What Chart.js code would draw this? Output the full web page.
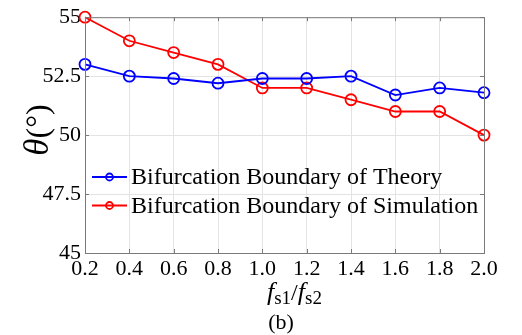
<!DOCTYPE html>
<html>
<head>
<meta charset="utf-8">
<script src="https://cdn.jsdelivr.net/npm/chart.js@4/dist/chart.umd.min.js"></script>
<style>
  html, body { margin: 0; padding: 0; background: #fff; }
  #wrap { width: 522px; height: 335px; }
</style>
</head>
<body>
<div id="wrap"><canvas id="chartBifurcacao" width="522" height="335"></canvas></div>
<script>
// dados
const ratios = [0.2, 0.4, 0.6, 0.8, 1.0, 1.2, 1.4, 1.6, 1.8, 2.0];
const theory = [53, 52.5, 52.4, 52.2, 52.4, 52.4, 52.5, 51.7, 52, 51.8];
const simulation = [55, 54, 53.5, 53, 52, 52, 51.5, 51, 51, 50];
const yTicks = [45, 47.5, 50, 52.5, 55];
const seriesNames = ["Bifurcation Boundary of Theory", "Bifurcation Boundary of Simulation"];

const serif = "'Liberation Serif', 'Times New Roman', serif";
const axisGray = "#7a7a7a";

// caixa, ticks para dentro, legenda e títulos
const extras = {
    id: "extras",
    afterDraw(chart) {
        const ctx = chart.ctx;
        const a = chart.chartArea;
        const x = chart.scales.x, y = chart.scales.y;
        ctx.save();
        ctx.strokeStyle = axisGray;
        ctx.lineWidth = 1;
        ctx.strokeRect(a.left + 0.5, a.top + 0.5, a.right - a.left, a.bottom - a.top);
        ctx.beginPath();
        ratios.forEach(v => {
            const px = Math.round(x.getPixelForValue(v)) + 0.5;
            ctx.moveTo(px, a.bottom); ctx.lineTo(px, a.bottom - 4);
            ctx.moveTo(px, a.top); ctx.lineTo(px, a.top + 4);
        });
        yTicks.forEach(v => {
            const py = Math.round(y.getPixelForValue(v)) + 0.5;
            ctx.moveTo(a.left, py); ctx.lineTo(a.left + 4, py);
            ctx.moveTo(a.right, py); ctx.lineTo(a.right - 4, py);
        });
        ctx.stroke();

        // legenda
        ctx.font = "24px " + serif;
        ctx.textBaseline = "middle";
        chart.data.datasets.forEach((ds, i) => {
            const ly = 177 + i * 28.5;
            ctx.strokeStyle = ds.borderColor;
            ctx.lineWidth = 1.8;
            ctx.beginPath();
            ctx.moveTo(92, ly); ctx.lineTo(127, ly);
            ctx.stroke();
            ctx.beginPath();
            ctx.arc(109.5, ly, 3.5, 0, Math.PI * 2);
            ctx.stroke();
            ctx.fillStyle = "#000";
            ctx.textAlign = "left";
            ctx.fillText(ds.label, 131, ly + 1);
        });

        // título eixo x: fs1/fs2
        ctx.fillStyle = "#000";
        ctx.textBaseline = "alphabetic";
        const parts = [
            ["f", "italic 26px " + serif, 0],
            ["s1", "19px " + serif, 4],
            ["/", "24px " + serif, 0],
            ["f", "italic 26px " + serif, 0],
            ["s2", "19px " + serif, 4]
        ];
        let cx = 267;
        parts.forEach(p => {
            ctx.font = p[1];
            ctx.textAlign = "left";
            ctx.fillText(p[0], cx, 300 + p[2]);
            cx += ctx.measureText(p[0]).width;
        });

        ctx.font = "22px " + serif;
        ctx.textAlign = "center";
        ctx.fillText("(b)", 281, 329);

        // título eixo y: θ(°)
        ctx.translate(37, 130);
        ctx.rotate(-Math.PI / 2);
        ctx.textAlign = "left";
        const th = "italic 35px " + serif, rest = "32px " + serif;
        ctx.font = th; const w1 = ctx.measureText("θ").width;
        ctx.font = rest; const w2 = ctx.measureText("(°)").width;
        const sx = -(w1 + w2) / 2;
        ctx.font = th; ctx.fillText("θ", sx, 11);
        ctx.font = rest; ctx.fillText("(°)", sx + w1, 11);
        ctx.restore();
    }
};

const cv = document.getElementById("chartBifurcacao");

new Chart(cv, {
    type: "line",
    data: {
        datasets: [
            {
                label: seriesNames[0],
                data: ratios.map((r, i) => ({ x: r, y: theory[i] })),
                borderColor: "#0000ff",
                borderWidth: 1.8,
                pointRadius: 5.5,
                pointBorderWidth: 1.8,
                pointBackgroundColor: "rgba(0,0,0,0)",
                pointBorderColor: "#0000ff",
                tension: 0
            },
            {
                label: seriesNames[1],
                data: ratios.map((r, i) => ({ x: r, y: simulation[i] })),
                borderColor: "#ff0000",
                borderWidth: 1.8,
                pointRadius: 5.5,
                pointBorderWidth: 1.8,
                pointBackgroundColor: "rgba(0,0,0,0)",
                pointBorderColor: "#ff0000",
                tension: 0
            }
        ]
    },
    options: {
        responsive: false,
        animation: false,
        clip: false,
        layout: { padding: { top: 13, right: 38, left: 0, bottom: 0 } },
        plugins: { legend: { display: false }, tooltip: { enabled: false } },
        scales: {
            x: {
                type: "linear",
                min: 0.2,
                max: 2.0,
                afterBuildTicks: s => { s.ticks = ratios.map(v => ({ value: v })); },
                afterFit: s => { s.height = 82; },
                grid: { color: "#e3e3e3", drawTicks: false },
                border: { display: false },
                ticks: {
                    padding: 3,
                    color: "#000",
                    font: { family: serif, size: 22 },
                    callback: v => Number(v).toFixed(1)
                }
            },
            y: {
                min: 45,
                max: 55,
                afterBuildTicks: s => { s.ticks = yTicks.map(v => ({ value: v })); },
                afterFit: s => { s.width = 85; },
                grid: { color: "#e3e3e3", drawTicks: false },
                border: { display: false },
                ticks: {
                    padding: 4,
                    color: "#000",
                    font: { family: serif, size: 22 },
                    callback: v => String(v)
                }
            }
        }
    },
    plugins: [extras]
});
</script>
</body>
</html>
